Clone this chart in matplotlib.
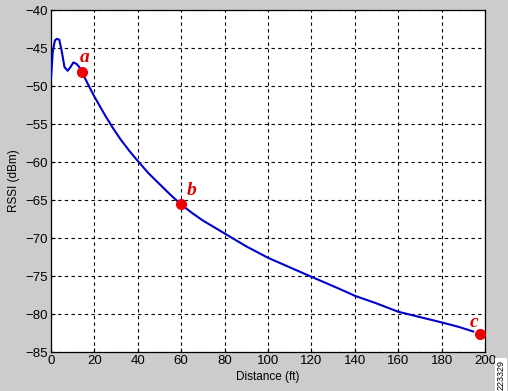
import matplotlib
matplotlib.use("Agg")
import matplotlib.pyplot as plt

# RSSI curve
distance = [0, 0.8, 1.8, 2.6, 3.8, 5.0, 6.2, 7.7, 9.0, 10.3, 11.8, 13.0,
            15.7, 18.0, 20.0, 22.6, 25.0, 28.7, 32.0, 36.0, 39.5, 45.0,
            50.0, 55.0, 60.0, 65.0, 70.0, 80.0, 90.0, 100.0, 110.0, 120.0,
            133.0, 140.0, 150.0, 160.0, 170.0, 180.0, 188.0, 194.6]
rssi = [-49.0, -45.5, -44.0, -43.8, -43.9, -45.5, -47.5, -48.0, -47.5,
        -46.9, -47.1, -47.5, -49.0, -50.3, -51.4, -52.7, -53.9, -55.6,
        -57.0, -58.5, -59.7, -61.5, -62.9, -64.3, -65.6, -66.7, -67.7,
        -69.4, -71.1, -72.6, -73.85, -75.1, -76.7, -77.6, -78.6, -79.7,
        -80.4, -81.1, -81.7, -82.3]

# labelled points
point_names = ["a", "b", "c"]
point_x = [14.1, 59.8, 197.7]
point_y = [-48.2, -65.5, -82.6]
label_x = [15.7, 64.8, 195.0]
label_y = [-46.2, -63.7, -81.1]

x_ticks = list(range(0, 201, 20))
y_ticks = list(range(-85, -39, 5))

plt.rcParams["font.family"] = ["Liberation Sans", "DejaVu Sans"]

fig = plt.figure(figsize=(5.08, 3.91), dpi=100, facecolor="#cccccc")
ax = fig.add_axes([0.1004, 0.0997, 0.8543, 0.8747])
ax.set_facecolor("white")

ax.plot(distance, rssi, color="#0000cc", linewidth=1.5, zorder=3)
ax.plot(point_x, point_y, "o", color="#ee0000", markersize=7, zorder=4)
for name, lx, ly in zip(point_names, label_x, label_y):
    ax.text(lx, ly, name, color="#dd0000", fontsize=14, fontweight="bold",
            fontstyle="italic", family="Liberation Serif",
            ha="center", va="center", zorder=5)

ax.set_xlim(0, 200)
ax.set_ylim(-85, -40)
ax.set_xticks(x_ticks)
ax.set_yticks(y_ticks)
ax.tick_params(direction="in", length=3, labelsize=9.5, colors="black", pad=2)
ax.grid(True, color="black", linestyle=(0, (3, 3)), linewidth=0.8)
for sp in ax.spines.values():
    sp.set_color("black")
    sp.set_linewidth(0.9)

ax.set_xlabel("Distance (ft)", fontsize=8.5, labelpad=3)
ax.set_ylabel("RSSI (dBm)", fontsize=8.5, labelpad=4)

fig.text(0.9955, 0.003, "223329", rotation=90, fontsize=6.5, ha="right", va="bottom",
         bbox=dict(facecolor="white", edgecolor="none", pad=1.2))

fig.savefig("out.png", dpi=100, facecolor=fig.get_facecolor())
